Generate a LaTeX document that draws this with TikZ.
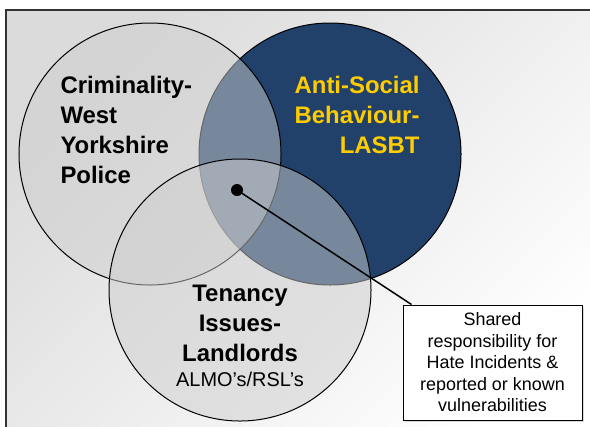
\documentclass[tikz,border=0pt]{standalone}
\usepackage{fontspec}
\setmainfont{Liberation Sans}
\usetikzlibrary{shadows}

\definecolor{asbnavy}{RGB}{33,65,106}
\definecolor{asbgold}{RGB}{255,204,0}
\definecolor{setgray}{RGB}{206,206,206}

\begin{document}
\begin{tikzpicture}[x=1bp,y=-1bp,line width=1bp,
    set/.style={draw,shape=circle,minimum size=262bp,inner sep=0pt},
    heading/.style={font=\bfseries\fontsize{24}{30}\selectfont,inner sep=0pt}]

   \useasboundingbox (0,0) rectangle (590,426);
   % shaded frame, only its top and left edges are inside the page
   \path[draw=black!80,line width=1.6bp,top color=black!14,bottom color=white,shading angle=45]
      (6,10) rectangle (612,448);

   \path (330,154) node[set,fill=asbnavy] (asb) {};
   \path (150,154) node[set,fill=setgray,fill opacity=.5] (crime) {};
   \path (240,290) node[set,fill=setgray,fill opacity=.5] (tenancy) {};

   \path (60,130) node[heading,anchor=west,align=left] (crimelabel)
      {Criminality-\\West\\Yorkshire\\Police};
   \path (420,115) node[heading,anchor=east,align=right,text=asbgold] (asblabel)
      {Anti-Social\\Behaviour-\\LASBT};
   \path (240,285) node[heading,anchor=north,align=center] (tenancylabel)
      {Tenancy\\Issues-\\Landlords\\[-5bp]{\mdseries\fontsize{20}{24}\selectfont ALMO's/RSL's}};

   \path (237,190) node[fill,shape=circle,minimum size=12bp,inner sep=0pt] (dot) {};
   \path (492.5,362.5) node[draw,fill=white,minimum width=179bp,minimum height=115bp,
      align=center,font=\fontsize{18}{21.6}\selectfont,
      drop shadow={shadow xshift=1.5bp,shadow yshift=-1.5bp,opacity=.3}] (note)
      {Shared\\responsibility for\\Hate Incidents \&\\reported or known\\vulnerabilities};

   \draw[line width=1.5bp] (dot.center) -- ([xshift=9bp]note.north west);

\end{tikzpicture}
\end{document}
